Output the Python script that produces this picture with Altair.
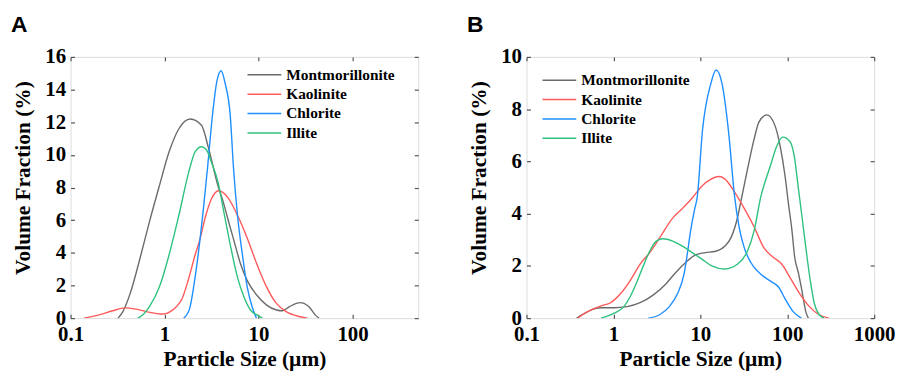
import altair as alt
import pandas as pd

SERIES = ["Montmorillonite", "Kaolinite", "Chlorite", "Illite"]
COLORS = ["#6b6b6b", "#ff5a5a", "#1e8fff", "#2ec27e"]

# ---------------- Panel A ----------------
a_mont_x = [0.32, 0.36, 0.43, 0.55, 0.69, 0.88, 1.12, 1.42, 1.88, 2.48, 2.91, 3.7, 4.17, 4.7, 5.5, 6.45, 7.58, 9.6, 12.2, 15.5, 18, 21.3, 27.6, 34.4, 40, 44]
a_mont_y = [0, 0.4, 1.5, 3.7, 5.9, 8.1, 10.2, 11.6, 12.2, 11.8, 10.5, 8.1, 7.2, 6.1, 4.7, 3.3, 2.3, 1.4, 0.8, 0.5, 0.45, 0.7, 0.95, 0.7, 0.2, 0]

a_kaol_x = [0.14, 0.2, 0.28, 0.38, 0.5, 0.7, 0.9, 1.03, 1.15, 1.31, 1.54, 1.8, 2.12, 2.4, 2.69, 3.15, 3.76, 4.7, 5.97, 7.58, 9.6, 12.2, 15.5, 19.7, 27, 33]
a_kaol_y = [0, 0.2, 0.45, 0.63, 0.55, 0.35, 0.25, 0.28, 0.4, 0.65, 1.2, 2.4, 3.9, 4.9, 6.1, 7.3, 7.8, 7.4, 6.3, 4.9, 3.3, 1.9, 0.9, 0.4, 0.1, 0]

a_chlo_x = [1.6, 1.85, 2.05, 2.29, 2.6, 2.86, 3.23, 3.6, 4.0, 4.4, 5.0, 5.42, 5.97, 6.73, 7.58, 8.54, 9.5]
a_chlo_y = [0, 0.6, 2.0, 4.0, 6.8, 9.15, 12.4, 14.5, 15.15, 14.4, 12.4, 9.15, 6.3, 3.9, 1.9, 0.7, 0]

a_illi_x = [0.52, 0.6, 0.69, 0.88, 1.12, 1.42, 1.8, 2.12, 2.48, 2.8, 3.15, 3.7, 4.34, 5.08, 5.97, 7.0, 8.2, 9.6, 11]
a_illi_y = [0, 0.25, 0.7, 1.9, 3.9, 6.3, 8.9, 10.2, 10.5, 10.3, 9.55, 8.35, 6.3, 4.3, 2.5, 1.3, 0.5, 0.2, 0]

# ---------------- Panel B ----------------
b_mont_x = [0.377, 0.45, 0.556, 0.72, 1.02, 1.44, 2.03, 2.86, 4.04, 5.25, 6.78, 8.8, 11.4, 14.7, 19.1, 22.7, 27, 29.4, 34.9, 41.5, 47.2, 58.5, 72.8, 82.8, 94.2, 104, 112.5, 122, 134, 145, 165, 175]
b_mont_y = [0, 0.15, 0.32, 0.4, 0.4, 0.44, 0.59, 0.88, 1.32, 1.76, 2.13, 2.42, 2.51, 2.55, 2.75, 3.1, 3.9, 4.5, 5.7, 6.84, 7.5, 7.78, 7.34, 6.59, 5.46, 4.3, 3.45, 2.32, 1.75, 1.19, 0.2, 0]

b_kaol_x = [0.39, 0.45, 0.556, 0.72, 0.93, 1.21, 1.56, 2.03, 2.62, 3.4, 4.8, 6.22, 8.07, 10.6, 13, 16.3, 19.1, 24.7, 32, 41.5, 53.7, 69.6, 86.3, 107, 139, 180, 233, 300]
b_kaol_y = [0, 0.15, 0.32, 0.47, 0.59, 0.94, 1.44, 2.07, 2.51, 3.07, 3.83, 4.2, 4.6, 5.08, 5.3, 5.42, 5.33, 4.83, 4.2, 3.5, 2.7, 2.32, 2.07, 1.57, 0.94, 0.44, 0.13, 0]

b_chlo_x = [2.52, 3.4, 4.4, 5.47, 6.5, 7.08, 7.72, 8.64, 9.19, 10.6, 13.2, 15.2, 17.8, 21.2, 24.7, 28.1, 32, 38.1, 49.3, 66.7, 79.4, 94.2, 117, 145]
b_chlo_y = [0, 0.13, 0.44, 0.94, 1.69, 2.45, 3.33, 4.2, 4.6, 7.2, 8.97, 9.5, 8.97, 7.09, 4.7, 3.45, 2.7, 2.13, 1.69, 1.38, 1.19, 0.75, 0.25, 0]

b_illi_x = [0.72, 1.02, 1.32, 1.56, 1.86, 2.21, 2.62, 3.12, 3.71, 4.8, 6.22, 8.07, 10.4, 13.5, 19.1, 26.9, 34.9, 41.5, 49.3, 64, 75.9, 88.7, 107, 122, 133, 145, 154, 168, 183, 205, 233, 265]
b_illi_y = [0, 0.19, 0.44, 0.82, 1.38, 2.0, 2.57, 2.95, 3.04, 2.95, 2.76, 2.51, 2.26, 2.0, 1.88, 2.07, 2.57, 3.33, 4.6, 5.83, 6.59, 6.93, 6.77, 6.09, 5.08, 4.1, 3.4, 2.4, 1.5, 0.56, 0.13, 0]

A_X_TICKS = [0.1, 1, 10, 100]
B_X_TICKS = [0.1, 1, 10, 100, 1000]
A_Y_TICKS = [0, 2, 4, 6, 8, 10, 12, 14, 16]
B_Y_TICKS = [0, 2, 4, 6, 8, 10]


def table(pairs):
    rows = []
    for name, xs, ys in pairs:
        for x, y in zip(xs, ys):
            rows.append({"series": name, "size": x, "frac": y})
    return pd.DataFrame(rows)


df_a = table([
    ("Montmorillonite", a_mont_x, a_mont_y),
    ("Kaolinite", a_kaol_x, a_kaol_y),
    ("Chlorite", a_chlo_x, a_chlo_y),
    ("Illite", a_illi_x, a_illi_y),
])
df_b = table([
    ("Montmorillonite", b_mont_x, b_mont_y),
    ("Kaolinite", b_kaol_x, b_kaol_y),
    ("Chlorite", b_chlo_x, b_chlo_y),
    ("Illite", b_illi_x, b_illi_y),
])

W, H = 350, 263
SERIF = "Liberation Serif"
TICK_COLOR = "#555555"
LEGEND_LINE = "M-2,0H2"   # horizontal stroke, twice as long as the size-based diameter


def panel(df, x_dom, x_ticks, y_max, y_ticks, leg_x, leg_y, label):
    xs = alt.Scale(type="log", domain=x_dom, nice=False)
    ys = alt.Scale(domain=[0, y_max], nice=False)
    base = alt.Chart(df)
    lines = base.mark_line(interpolate="monotone", strokeWidth=1.4, clip=True).encode(
        x=alt.X("size:Q", scale=xs, axis=alt.Axis(
            values=x_ticks, format="~g", title="Particle Size (µm)", ticks=False, tickSize=0,
            domain=False, grid=False, labelPadding=6, titlePadding=4,
            labelFont=SERIF, labelFontWeight="bold", labelFontSize=21, labelColor="black",
            titleFont=SERIF, titleFontWeight="bold", titleFontSize=21.5, titleColor="black",
            labelFlush=False)),
        y=alt.Y("frac:Q", scale=ys, axis=alt.Axis(
            values=y_ticks, format="d", title="Volume Fraction (%)", ticks=False, tickSize=0,
            domain=False, grid=False, labelPadding=5, titlePadding=10, titleY=H / 2 - 10,
            labelFont=SERIF, labelFontWeight="bold", labelFontSize=21, labelColor="black",
            titleFont=SERIF, titleFontWeight="bold", titleFontSize=21.5, titleColor="black")),
        color=alt.Color("series:N", sort=SERIES,
                        scale=alt.Scale(domain=SERIES, range=COLORS),
                        legend=alt.Legend(
                            title=None, orient="none", legendX=leg_x, legendY=leg_y,
                            symbolType=LEGEND_LINE, symbolSize=289, symbolStrokeWidth=1.5,
                            labelFont=SERIF, labelFontWeight="bold", labelFontSize=15.5,
                            labelColor="black", labelOffset=12.5, rowPadding=1.5, padding=0)),
    )
    tick_style = dict(labels=False, title=None, tickSize=4, tickWidth=1.2, tickColor=TICK_COLOR,
                      domain=False, grid=False)
    ghost1 = base.mark_line(opacity=0).encode(
        x=alt.X("size:Q", scale=xs, axis=alt.Axis(orient="top", offset=-H, values=x_ticks, **tick_style)),
        y=alt.Y("frac:Q", scale=ys, axis=alt.Axis(orient="right", offset=-W, values=y_ticks, **tick_style)),
    )
    ghost2 = base.mark_line(opacity=0).encode(
        x=alt.X("size:Q", scale=xs, axis=alt.Axis(orient="bottom", offset=-H, values=x_ticks, **tick_style)),
        y=alt.Y("frac:Q", scale=ys, axis=alt.Axis(orient="left", offset=-W, values=y_ticks, **tick_style)),
    )
    return alt.layer(lines, ghost1, ghost2).properties(
        width=W, height=H,
        title=alt.TitleParams(label, anchor="start", frame="group", dx=-60, offset=9,
                              font="Liberation Sans", fontSize=23, fontWeight="bold", color="black"),
    )


pa = panel(df_a, [0.1, 500], A_X_TICKS, 16, A_Y_TICKS, 185.6, 8.5, "A")
pb = panel(df_b, [0.1, 1000], B_X_TICKS, 10, B_Y_TICKS, 23.6, 14, "B")

chart = alt.hconcat(pa, pb, spacing=46).resolve_legend(color="independent").properties(
    padding={"left": 2, "top": 4, "right": 0, "bottom": 0}
).configure_view(stroke=TICK_COLOR, strokeWidth=1.5).configure(background="white")

chart.save("out.html", embed_options={"renderer": "svg", "actions": False})
